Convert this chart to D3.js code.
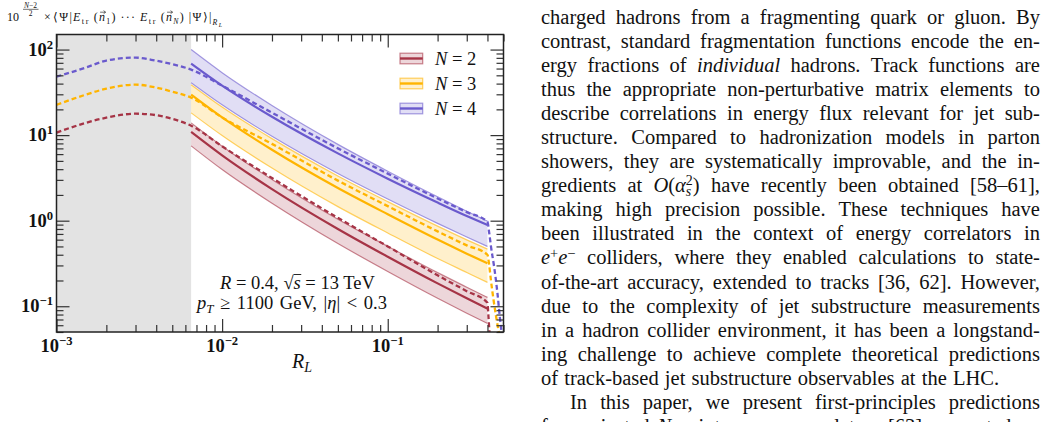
<!DOCTYPE html>
<html>
<head>
<meta charset="utf-8">
<script src="https://cdn.jsdelivr.net/npm/d3@7"></script>
<style>
  html, body { margin: 0; padding: 0; background: #fff; }
  body { width: 1050px; height: 422px; overflow: hidden; position: relative; }
  #chart { position: absolute; left: 0; top: 0; }
  #page { position: absolute; left: 541px; top: 5px; width: 499px;
          font-family: "Liberation Serif", "Times New Roman", serif; font-size: 20.5px; color: #111; }
  .ln { display: flex; justify-content: space-between; align-items: baseline;
        height: 24.05px; line-height: 24.05px; white-space: nowrap; }
  .ln.last { justify-content: flex-start; gap: 0.3em; }
  .ln.indent { padding-left: 29px; }
  sup { font-size: 0.7em; line-height: 0; vertical-align: 0.45em; }
  .st { display: inline-flex; flex-direction: column; font-size: 0.68em; line-height: 0.78em;
        vertical-align: 0.5em; }
</style>
</head>
<body>
<svg id="chart" width="1050" height="422"></svg>
<div id="page"></div>
<script>
// ---- data ----
var grayEdge = 0.0065;
var bandR = [0.0065, 0.01, 0.02, 0.05, 0.1, 0.2, 0.3, 0.4];

var n2Mid = [10.9, 5.80, 2.34, 0.80, 0.379, 0.185, 0.124, 0.094];
var n2Lo  = [7.49, 3.96, 1.60, 0.541, 0.255, 0.124, 0.083, 0.063];
var n2Hi  = [13.9, 7.43, 3.03, 1.04, 0.501, 0.247, 0.167, 0.127];

var n3Mid = [29.7, 16.1, 6.74, 2.41, 1.19, 0.602, 0.412, 0.318];
var n3Lo  = [18.2, 9.89, 4.12, 1.46, 0.718, 0.361, 0.248, 0.19];
var n3Hi  = [38.9, 21.3, 9.10, 3.33, 1.67, 0.863, 0.597, 0.465];

var n4Mid = [68.5, 37.9, 16.4, 6.12, 3.10, 1.63, 1.135, 0.89];
var n4Lo  = [41.0, 22.6, 9.68, 3.56, 1.79, 0.93, 0.645, 0.50];
var n4Hi  = [100, 53.7, 22.2, 7.80, 3.79, 1.90, 1.29, 0.99];

var n2DashR = [0.001, 0.0015, 0.002, 0.003, 0.004, 0.005, 0.0065, 0.01, 0.02, 0.05, 0.1, 0.2, 0.3, 0.4, 0.405, 0.41, 0.413];
var n2Dash  = [10.7, 13.9, 16.0, 17.8, 17.1, 15.5, 12.9, 7.4, 3.15, 1.08, 0.50, 0.23, 0.15, 0.11, 0.08, 0.055, 0.045];

var n3DashR = [0.001, 0.0015, 0.002, 0.003, 0.004, 0.005, 0.0065, 0.01, 0.02, 0.05, 0.1, 0.2, 0.3, 0.4, 0.41, 0.42, 0.435, 0.45, 0.47];
var n3Dash  = [22.6, 29.7, 34.9, 38.9, 35.9, 32.2, 27.4, 16.1, 7.9, 2.94, 1.48, 0.75, 0.515, 0.40, 0.30, 0.20, 0.12, 0.078, 0.048];

var n4DashR = [0.001, 0.0015, 0.002, 0.003, 0.004, 0.005, 0.0065, 0.01, 0.02, 0.05, 0.1, 0.2, 0.3, 0.4, 0.41, 0.42, 0.44, 0.46, 0.475, 0.49];
var n4Dash  = [48.2, 61.5, 74.3, 80.5, 74, 67.6, 58.3, 37.9, 18.3, 7.0, 3.55, 1.82, 1.26, 0.97, 0.72, 0.50, 0.28, 0.14, 0.075, 0.045];

var xMajor = [1e-3, 1e-2, 1e-1];
var xMajorExp = ["\u22123", "\u22122", "\u22121"];
var yMajor = [0.1, 1, 10, 100];
var yMajorExp = ["\u22121", "0", "1", "2"];
var legendN = ["2", "3", "4"];
var colors = ["#a63446", "#ffb400", "#6a5acd"];

var paragraphLines = [
  "charged hadrons from a fragmenting quark or gluon. By",
  "contrast, standard fragmentation functions encode the en-",
  "ergy fractions of <i>individual</i> hadrons. Track functions are",
  "thus the appropriate non-perturbative matrix elements to",
  "describe correlations in energy flux relevant for jet sub-",
  "structure. Compared to hadronization models in parton",
  "showers, they are systematically improvable, and the in-",
  "gredients at <i>O</i>(<i>\u03b1</i><span class='st'><span>2</span><i>s</i></span>) have recently been obtained [58\u201361],",
  "making high precision possible. These techniques have",
  "been illustrated in the context of energy correlators in",
  "<i>e</i><sup>+</sup><i>e</i><sup>\u2212</sup> colliders, where they enabled calculations to state-",
  "of-the-art accuracy, extended to tracks [36, 62]. However,",
  "due to the complexity of jet substructure measurements",
  "in a hadron collider environment, it has been a longstand-",
  "ing challenge to achieve complete theoretical predictions",
  "of track-based jet substructure observables at the LHC.",
  "In this paper, we present first-principles predictions",
  "for projected <i>N</i>-point energy correlators [63] computed on"
];

// ---- scales ----
var svg = d3.select("#chart");
var x = d3.scaleLog().domain([1e-3, 0.5]).range([56.5, 503.5]);
var y = d3.scaleLog().domain([0.05, 150]).range([332, 34.5]);
var serif = '"Liberation Serif", "Times New Roman", serif';

svg.append("defs").append("clipPath").attr("id", "plotclip").append("rect")
  .attr("x", x.range()[0]).attr("y", y.range()[1])
  .attr("width", x.range()[1] - x.range()[0]).attr("height", y.range()[0] - y.range()[1]);

/* Shaded non-perturbative region */
svg.append("rect")
  .attr("x", x(1e-3)).attr("y", y(150))
  .attr("width", x(grayEdge) - x(1e-3)).attr("height", y(0.05) - y(150))
  .attr("fill", "#e3e3e3");

var plot = svg.append("g").attr("clip-path", "url(#plotclip)");

var series = [
  {mid: n2Mid, lo: n2Lo, hi: n2Hi, dr: n2DashR, dv: n2Dash, color: colors[0]},
  {mid: n3Mid, lo: n3Lo, hi: n3Hi, dr: n3DashR, dv: n3Dash, color: colors[1]},
  {mid: n4Mid, lo: n4Lo, hi: n4Hi, dr: n4DashR, dv: n4Dash, color: colors[2]}
];

var curve = d3.curveMonotoneX;
var area = d3.area().x(function (d) { return x(d[0]); })
  .y0(function (d) { return y(d[1]); }).y1(function (d) { return y(d[2]); }).curve(curve);
var line = d3.line().x(function (d) { return x(d[0]); }).y(function (d) { return y(d[1]); }).curve(curve);

/* Bands */
series.forEach(function (s) {
  var pts = bandR.map(function (r, i) { return [r, s.lo[i], s.hi[i]]; });
  plot.append("path").attr("d", area(pts)).attr("fill", s.color).attr("fill-opacity", 0.2);
  [s.lo, s.hi].forEach(function (edge) {
    plot.append("path").attr("d", line(bandR.map(function (r, i) { return [r, edge[i]]; })))
      .attr("fill", "none").attr("stroke", s.color).attr("stroke-opacity", 0.6).attr("stroke-width", 1.2);
  });
});

/* Central and dashed curves */
series.forEach(function (s) {
  plot.append("path").attr("d", line(bandR.map(function (r, i) { return [r, s.mid[i]]; })))
    .attr("fill", "none").attr("stroke", s.color).attr("stroke-width", 2.2);
  plot.append("path").attr("d", line(s.dr.map(function (r, i) { return [r, s.dv[i]]; })))
    .attr("fill", "none").attr("stroke", s.color).attr("stroke-width", 2.3)
    .attr("stroke-dasharray", "5,3");
});

/* Ticks, all inside */
function isMajor(v) { return Math.abs(Math.log10(v) - Math.round(Math.log10(v))) < 1e-9; }
var xMinor = x.ticks().filter(function (v) { return !isMajor(v); });
var yMinor = y.ticks().filter(function (v) { return !isMajor(v); });

function tickGroup(axis, vals, size, tx, ty) {
  svg.append("g").attr("transform", "translate(" + tx + "," + ty + ")")
    .call(axis.tickValues(vals).tickSize(size).tickFormat(""))
    .call(function (g) { g.select(".domain").remove(); })
    .call(function (g) { g.selectAll("line").attr("stroke", "#333").attr("stroke-width", 1.2); });
}
var L = x.range()[0], R = x.range()[1], T = y.range()[1], B = y.range()[0];
tickGroup(d3.axisBottom(x), xMinor, -7, 0, B);
tickGroup(d3.axisBottom(x), xMajor, -13, 0, B);
tickGroup(d3.axisTop(x), xMinor, -7, 0, T);
tickGroup(d3.axisTop(x), xMajor, -13, 0, T);
tickGroup(d3.axisLeft(y), yMinor, -7, L, 0);
tickGroup(d3.axisLeft(y), yMajor, -13, L, 0);
tickGroup(d3.axisRight(y), yMinor, -7, R, 0);
tickGroup(d3.axisRight(y), yMajor, -13, R, 0);

svg.append("rect").attr("x", L).attr("y", T).attr("width", R - L).attr("height", B - T)
  .attr("fill", "none").attr("stroke", "#222").attr("stroke-width", 1.5);

/* Rich text helper: parts are [text, {it, bold, size, shift}] */
function rich(g, px, py, size, parts, anchor) {
  var t = g.append("text").attr("x", px).attr("y", py).attr("font-size", size)
    .attr("font-family", serif).attr("fill", "#111").attr("text-anchor", anchor || "start")
    .style("white-space", "pre");
  var shift = 0;
  parts.forEach(function (p) {
    var txt = typeof p === "string" ? p : p[0], o = typeof p === "string" ? {} : p[1];
    var s = o.shift || 0;
    t.append("tspan").attr("dy", shift - s)
      .attr("font-size", o.size ? size * o.size : null)
      .attr("font-style", o.it ? "italic" : null)
      .attr("font-weight", o.bold ? "bold" : null)
      .attr("letter-spacing", o.ls || null).text(txt);
    shift = s;
  });
  return t;
}

/* Tick labels */
xMajor.forEach(function (v, i) {
  rich(svg, x(v), 351.5, 18.5, [["10", {bold: 1}], [xMajorExp[i], {bold: 1, size: 0.68, shift: 7}]], "middle");
});
yMajor.forEach(function (v, i) {
  rich(svg, 53, y(v) + 6, 18.5, [["10", {bold: 1}], [yMajorExp[i], {bold: 1, size: 0.68, shift: 7}]], "end");
});

/* Axis titles */
rich(svg, 292, 368, 20, [["R", {it: 1}], ["L", {it: 1, size: 0.7, shift: -4}]]);

rich(svg, 7, 21, 12, ["10"]);
rich(svg, 30.5, 7.5, 7.5, [["N", {it: 1}], "\u22122"], "middle");
svg.append("line").attr("x1", 23).attr("x2", 38.5).attr("y1", 9.3).attr("y2", 9.3)
  .attr("stroke", "#111").attr("stroke-width", 0.6);
rich(svg, 30.5, 15.5, 7.5, ["2"], "middle");
rich(svg, 44, 21, 12, ["\u00d7"]);
var yt = rich(svg, 53, 21, 12, [
  "\u27e8\u03a8|", ["E", {it: 1}], ["tr", {size: 0.68, shift: -3, ls: 0.4}], "\u2009(", ["n", {it: 1}],
  ["1", {size: 0.65, shift: -3}], ")\u2009\u00b7\u00b7\u00b7\u2009", ["E", {it: 1}], ["tr", {size: 0.68, shift: -3, ls: 0.4}],
  "\u2009(", ["n", {it: 1}], ["N", {it: 1, size: 0.65, shift: -3}], ")\u2009|\u03a8\u27e9|",
  ["R", {it: 1, size: 0.65, shift: -4}], ["L", {it: 1, size: 0.5, shift: -6}]
]).attr("textLength", 169).attr("lengthAdjust", "spacing");
/* vector arrows over the two n's */
[4, 10].forEach(function (k) {
  try {
    var b = yt.selectAll("tspan").nodes()[k].getBBox(), ax0 = b.x + 1, ax1 = b.x + b.width + 0.5, ay = 21 - 8.8;
    svg.append("path").attr("d", "M" + ax0 + "," + ay + "H" + ax1 + "M" + (ax1 - 2) + "," + (ay - 1.6) +
      "L" + ax1 + "," + ay + "L" + (ax1 - 2) + "," + (ay + 1.6))
      .attr("fill", "none").attr("stroke", "#111").attr("stroke-width", 0.6);
  } catch (e) {}
});

/* Legend */
var leg = svg.append("g");
series.forEach(function (s, i) {
  var cy = 58.5 + 25 * i;
  leg.append("rect").attr("x", 400).attr("y", cy - 5.3).attr("width", 22.7).attr("height", 10.6)
    .attr("fill", s.color).attr("fill-opacity", 0.2)
    .attr("stroke", s.color).attr("stroke-opacity", 0.6).attr("stroke-width", 1.2);
  leg.append("line").attr("x1", 400).attr("x2", 422.7).attr("y1", cy).attr("y2", cy)
    .attr("stroke", s.color).attr("stroke-width", 2.4);
  rich(leg, 435, cy + 6, 18.5, [["N", {it: 1}], " = " + legendN[i]]);
});

/* Annotation */
var a1 = rich(svg, 220, 289, 18.5, [["R", {it: 1}], " = 0.4, ", "\u221a", ["s", {it: 1}], " = 13 TeV"]);
try {
  var sp = a1.selectAll("tspan").nodes(), rb = sp[2].getBBox(), sb = sp[3].getBBox();
  svg.append("line").attr("x1", rb.x + rb.width - 0.8).attr("x2", sb.x + sb.width + 0.5)
    .attr("y1", 289 - 14.5).attr("y2", 289 - 14.5).attr("stroke", "#111").attr("stroke-width", 0.9);
} catch (e) {}
rich(svg, 197, 309, 18.5, [["p", {it: 1}], ["T", {it: 1, size: 0.7, shift: -4}], " \u2265 1100 GeV, |",
  ["\u03b7", {it: 1}], "| < 0.3"]).style("word-spacing", "2px");

/* Body text on the right */
var page = d3.select("#page");
paragraphLines.forEach(function (txt, i) {
  var div = page.append("div").attr("class", "ln" + (i === 15 ? " last" : "") + (i === 16 ? " indent" : ""));
  txt.split(/ (?![^<]*>)/).forEach(function (w) { div.append("span").html(w); });
});
</script>
</body>
</html>
